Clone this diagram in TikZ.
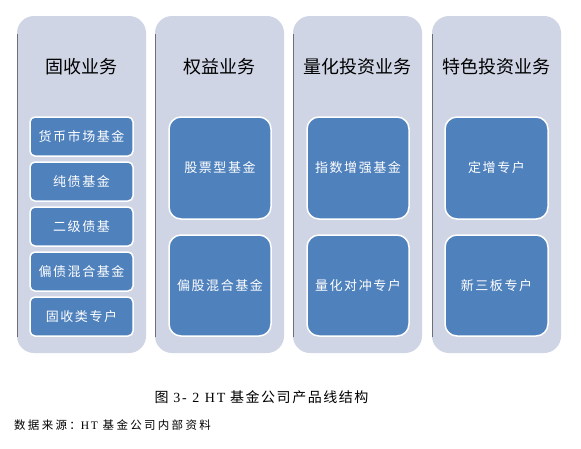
\documentclass[tikz,border=0pt]{standalone}
\usepackage{fontspec}
\setmainfont{Liberation Serif}
\newfontfamily\cjk{Noto Sans CJK SC}
\newfontfamily\cjkbox[LetterSpace=12]{Noto Sans CJK SC}
\newfontfamily\cjkcap[LetterSpace=11]{Noto Sans CJK SC}
\newfontfamily\cjksrc[LetterSpace=20]{Noto Sans CJK SC}
\newfontfamily\latcap[LetterSpace=14]{Liberation Serif}
\begin{document}
\begin{tikzpicture}[x=1pt,y=-1pt,
  panel/.style={fill={rgb,255:red,207;green,213;blue,228},draw=none,rounded corners=17pt},
  title/.style={font=\cjk\fontsize{18}{21}\selectfont,text=black},
  itembox/.style={fill={rgb,255:red,79;green,129;blue,189},draw=white,line width=1.5pt,rounded corners=5pt,
     text=white,font=\cjkbox\fontsize{13}{15}\selectfont,inner sep=0pt},
  bigbox/.style={itembox,rounded corners=12pt},
  edge/.style={draw={rgb,255:red,110;green,110;blue,120},line width=0.6pt}]
\useasboundingbox (0,0) rectangle (581,448);
\fill[white] (0,0) rectangle (581,448);
% panels
\foreach \xa/\xb in {17/146,155/284,293/422,432/561}{
  \path[panel] (\xa,16) rectangle (\xb,353);
  \draw[edge] (\xa,34) -- (\xa,337);
}
\node[title] (t1) at (81.5,67) {固收业务};
\node[title] (t2) at (219.5,67) {权益业务};
\node[title] (t3) at (357.5,67) {量化投资业务};
\node[title] (t4) at (496.5,67) {特色投资业务};
% column 1
\node[itembox,minimum width=103pt,minimum height=39pt] (a1) at (81.5,136.5) {货币市场基金};
\node[itembox,minimum width=103pt,minimum height=39pt] (a2) at (81.5,181.5) {纯债基金};
\node[itembox,minimum width=103pt,minimum height=39pt] (a3) at (81.5,226.5) {二级债基};
\node[itembox,minimum width=103pt,minimum height=39pt] (a4) at (81.5,271.5) {偏债混合基金};
\node[itembox,minimum width=103pt,minimum height=39pt] (a5) at (81.5,316.5) {固收类专户};
% column 2
\node[bigbox,minimum width=102pt,minimum height=102pt] (b1) at (220,168) {股票型基金};
\node[bigbox,minimum width=102pt,minimum height=101pt] (b2) at (220,285.5) {偏股混合基金};
% column 3
\node[bigbox,minimum width=102pt,minimum height=102pt] (c1) at (358,168) {指数增强基金};
\node[bigbox,minimum width=102pt,minimum height=101pt] (c2) at (358,285.5) {量化对冲专户};
% column 4
\node[bigbox,minimum width=103pt,minimum height=102pt] (d1) at (496.5,168) {定增专户};
\node[bigbox,minimum width=103pt,minimum height=101pt] (d2) at (496.5,285.5) {新三板专户};
% caption
\node[font=\cjkcap\fontsize{14}{16}\selectfont,anchor=center,inner sep=0pt] (cap) at (261.5,397) {图 {\latcap 3- 2 HT} 基金公司产品线结构};
\node[font=\cjksrc\fontsize{11.5}{13}\selectfont,anchor=west,inner sep=0pt] (src) at (14,425) {数据来源：{\latcap HT} 基金公司内部资料};
\end{tikzpicture}
\end{document}
